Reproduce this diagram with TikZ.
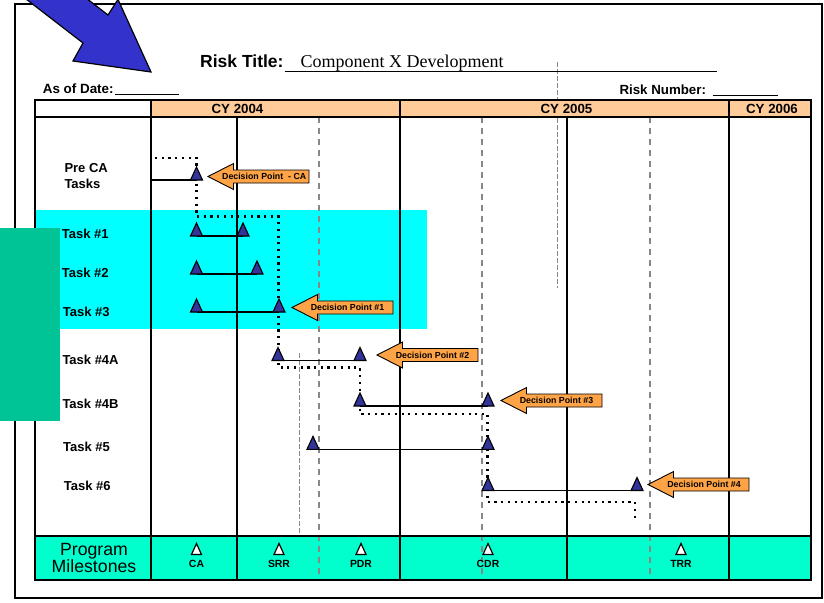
\documentclass[tikz,border=0pt]{standalone}
\usepackage{fontspec}
\setmainfont{Liberation Sans}
\newfontfamily\titleserif{Liberation Serif}

\definecolor{hdrorange}{RGB}{255,204,153}
\definecolor{bandcyan}{RGB}{0,255,255}
\definecolor{msrow}{RGB}{0,255,204}
\definecolor{sidegreen}{RGB}{0,196,150}
\definecolor{decorange}{RGB}{255,163,71}
\definecolor{marknavy}{RGB}{51,51,153}
\definecolor{bigblue}{RGB}{51,51,204}
\definecolor{gridgray}{RGB}{135,135,135}

% decision point call-out: name, tip x, tip y, tail x, text centre x, text
\newcommand\decpt[6]{%
  \draw[decshape] (#2,#3) -- (#2+25.5,#3-13) -- (#2+25.5,#3-6.5) -- (#4,#3-6.5)
     -- (#4,#3+6.5) -- (#2+25.5,#3+6.5) -- (#2+25.5,#3+13) -- cycle;
  \node[dectext] (#1) at (#5,#3+3.2) {#6};}

\begin{document}
\begin{tikzpicture}[x=1pt,y=-1pt,
  lbl/.style={inner sep=0pt, anchor=base west, font=\bfseries\fontsize{13}{15.6}\selectfont},
  hdr/.style={inner sep=0pt, anchor=base, font=\bfseries\fontsize{13.3}{15}\selectfont},
  mslbl/.style={inner sep=0pt, anchor=base, font=\bfseries\fontsize{10.4}{12}\selectfont},
  dectext/.style={inner sep=0pt, anchor=base, font=\bfseries\fontsize{8.8}{10}\selectfont},
  decshape/.style={fill=decorange, draw=black, line width=0.9pt, line join=miter},
  gridline/.style={gridgray, line width=1.3pt, dash pattern=on 6pt off 5pt},
  thingrid/.style={gridgray, line width=0.8pt, dash pattern=on 5pt off 2pt},
  taskline/.style={line width=1.3pt, black},
  dotpath/.style={line width=2.2pt, dash pattern=on 2.2pt off 4.5pt, black},
  taskmark/.pic={\draw[fill=marknavy, line width=1.1pt, line join=miter]
      (-6,0) -- (6,0) -- (0,-13) -- cycle;},
  msmark/.pic={\draw[fill=white, line width=1.2pt, line join=miter]
      (-5,0) -- (5,0) -- (0,-11) -- cycle;}
]
\useasboundingbox (0,0) rectangle (824,602);
\fill[white] (0,0) rectangle (824,602);
\clip (0,0) rectangle (824,602);

% fine guide lines
\draw[thingrid] (557,62) -- (557,288);
\draw[thingrid] (299,353) -- (299,536);

% coloured areas
\fill[bandcyan] (36,210) rectangle (427,329);
\fill[hdrorange] (151,100) rectangle (811,117);
\fill[msrow] (35,536) rectangle (811,580);

% dashed review lines
\foreach \gx in {319,482,650} \draw[gridline] (\gx,117) -- (\gx,580);

% table rules
\draw[line width=1.8pt] (237,117) -- (237,580);
\draw[line width=1.8pt] (567,117) -- (567,580);
\draw[line width=2.5pt] (151,100) -- (151,580);
\draw[line width=2.5pt] (400,100) -- (400,580);
\draw[line width=2.2pt] (729,100) -- (729,580);
\draw[line width=2.5pt] (35,117) -- (811,117);
\draw[line width=2.5pt] (35,536) -- (811,536);
\draw[line width=2.5pt] (35,100) rectangle (811,580);

% outer frame
\draw[line width=2pt] (15,4) rectangle (822,598);

% title block
\node[inner sep=0pt, anchor=base west, font=\bfseries\fontsize{17.5}{20}\selectfont] (rtitle) at (200,67.5) {Risk Title:};
\node[inner sep=0pt, anchor=base west, font=\titleserif\fontsize{18}{20}\selectfont] (rname) at (300.5,67.5) {Component X Development};
\draw[line width=1pt] (285,71) -- (717,71);
\node[inner sep=0pt, anchor=base west, font=\bfseries\fontsize{13.4}{15}\selectfont] (asof) at (42.7,93.3) {As of Date:};
\draw[line width=1pt] (115,94.5) -- (179,94.5);
\node[inner sep=0pt, anchor=base west, font=\bfseries\fontsize{13.3}{15}\selectfont] (rnum) at (619.3,94) {Risk Number:};
\draw[line width=1pt] (713,95) -- (778,95);

% year headers
\node[hdr] (cy4) at (237.5,113.5) {CY 2004};
\node[hdr] (cy5) at (566.5,113.5) {CY 2005};
\node[hdr] (cy6) at (772,113.5) {CY 2006};

% task labels (two-line label is anchored on its last line)
\node[lbl, align=left] (lpre) at (64.3,188.3) {Pre CA\\Tasks};
\node[lbl] (l1) at (61.7,238.3) {Task \#1};
\node[lbl] (l2) at (61.7,277.3) {Task \#2};
\node[lbl] (l3) at (62.7,316) {Task \#3};
\node[lbl] (l4a) at (62.3,364) {Task \#4A};
\node[lbl] (l4b) at (62.3,408.3) {Task \#4B};
\node[lbl] (l5) at (63,451.7) {Task \#5};
\node[lbl] (l6) at (63.7,490.7) {Task \#6};

% task end points
\coordinate (pre0) at (151,180);  \coordinate (pre1) at (196.5,180);
\coordinate (t1a) at (196.5,236); \coordinate (t1b) at (243,236);
\coordinate (t2a) at (196.5,274); \coordinate (t2b) at (257,274);
\coordinate (t3a) at (196.5,312); \coordinate (t3b) at (279,312);
\coordinate (t4a) at (278,360.5); \coordinate (t4b) at (360,360.5);
\coordinate (t4c) at (360,406);   \coordinate (t4d) at (488,406);
\coordinate (t5a) at (313,449.3); \coordinate (t5b) at (488,449.3);
\coordinate (t6a) at (488,490.5); \coordinate (t6b) at (637,490.5);

% critical path (dotted)
\coordinate (dp0) at (155,158);
\coordinate (dp9) at (635,521);
\draw[dotpath] (dp0) -- (pre1 |- dp0) -- (196.5,216.5) -- (278.5,216.5) -- (278.5,367.5)
   -- (360,367.5) -- (360,414) -- (487.5,414) -- (487.5,502) -- (dp9 |- 0,502) -- (dp9);

% task bars
\draw[taskline] (pre0) -- (pre1);
\draw[taskline] (t1a) -- (t1b);
\draw[taskline] (t2a) -- (t2b);
\draw[taskline] (t3a) -- (t3b);
\draw[taskline] (t4a) -- (t4b);
\draw[taskline] (t4c) -- (t4d);
\draw[taskline] (t5a) -- (t5b);
\draw[taskline] (t6a) -- (t6b);

\foreach \p in {pre1,t1a,t1b,t2a,t2b,t3a,t3b,t4a,t4b,t4c,t4d,t5a,t5b,t6a,t6b}
  \pic at (\p) {taskmark};

% decision points
\decpt{dca}{208}{176.5}{309}{264.2}{Decision Point\ \ - CA}
\decpt{d1}{292}{307.5}{393}{347.5}{Decision Point \#1}
\decpt{d2}{377}{355}{478}{432.5}{Decision Point \#2}
\decpt{d3}{501}{400.5}{602}{556.5}{Decision Point \#3}
\decpt{d4}{648}{484.5}{749}{704}{Decision Point \#4}

% milestone row
\node[inner sep=0pt, anchor=base, align=center, font=\fontsize{17.7}{16}\selectfont] (pm) at (94,572.7) {Program\\Milestones};
\foreach \mx/\mt in {196.5/CA,279/SRR,361/PDR,488/CDR,681/TRR}{
  \pic at (\mx,554.5) {msmark};
  \node[mslbl] (ms\mt) at (\mx,567.5) {\mt};
}

% side block
\fill[sidegreen] (0,228) rectangle (60,421);

% pointer arrow
\draw[fill=bigblue, line width=1.2pt, line join=miter]
  (19.8,-5.8) -- (83,43) -- (73,61) -- (151,72) -- (118,-0.5) -- (108,15) -- (44.8,-33.8) -- cycle;
\end{tikzpicture}
\end{document}
